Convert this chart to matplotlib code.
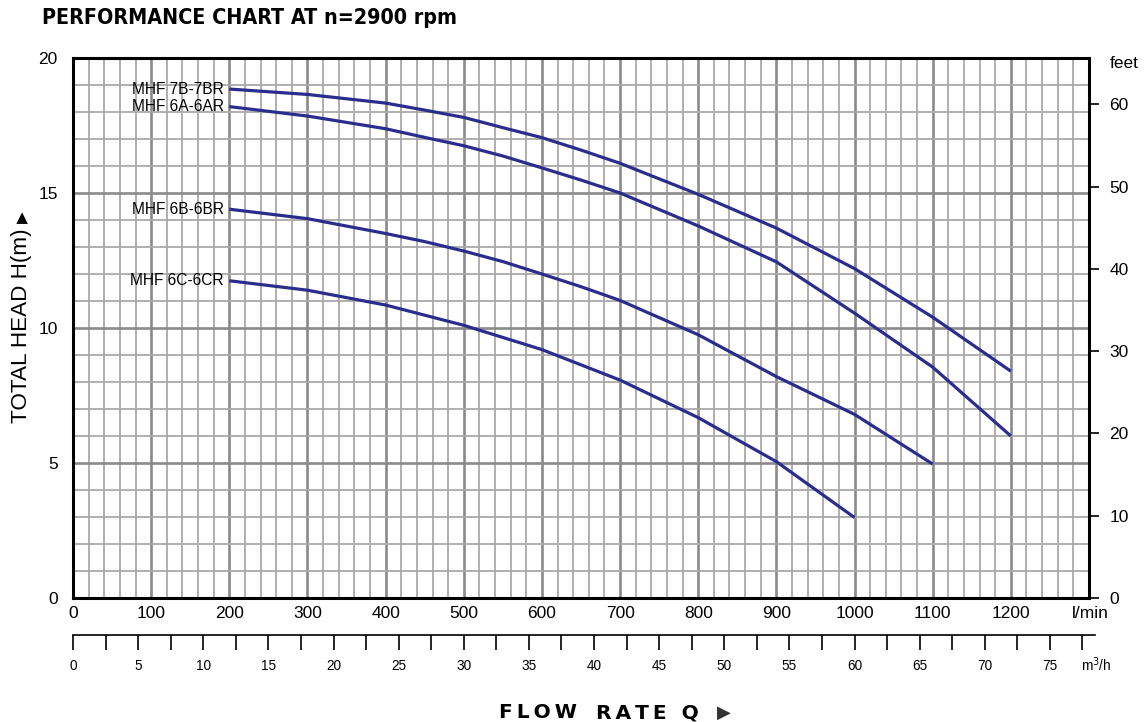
import matplotlib
matplotlib.use("Agg")
import matplotlib.pyplot as plt
from matplotlib.ticker import MultipleLocator, FixedLocator
import matplotlib.transforms as mtransforms

# ---------------- data ----------------
flow_7b = [200, 300, 400, 450, 500, 550, 600, 650, 700, 800, 900, 1000, 1100, 1200]
head_7b = [18.85, 18.65, 18.33, 18.07, 17.8, 17.42, 17.05, 16.59, 16.1, 14.95, 13.7, 12.2, 10.4, 8.4]

flow_6a = [200, 300, 400, 450, 500, 550, 600, 650, 700, 800, 900, 1000, 1100, 1200]
head_6a = [18.2, 17.85, 17.38, 17.06, 16.75, 16.37, 15.93, 15.48, 15.0, 13.78, 12.45, 10.55, 8.55, 6.0]

flow_6b = [200, 300, 400, 450, 500, 550, 600, 650, 700, 800, 900, 1000, 1100]
head_6b = [14.4, 14.05, 13.5, 13.2, 12.85, 12.46, 12.0, 11.53, 11.02, 9.75, 8.2, 6.8, 4.96]

flow_6c = [200, 300, 400, 500, 600, 700, 800, 900, 1000]
head_6c = [11.75, 11.4, 10.85, 10.1, 9.2, 8.07, 6.68, 5.05, 2.98]

model_names = ["MHF 7B-7BR", "MHF 6A-6AR", "MHF 6B-6BR", "MHF 6C-6CR"]

lmin_ticks = [0, 100, 200, 300, 400, 500, 600, 700, 800, 900, 1000, 1100, 1200]
head_ticks = [0, 5, 10, 15, 20]
feet_ticks = [0, 10, 20, 30, 40, 50, 60]
m3h_ticks = [i * 2.5 for i in range(32)]
m3h_labels = [("%d" % t) if (t % 5 == 0 and t <= 75) else "" for t in m3h_ticks]

# ---------------- style ----------------
W, H = 1147, 722
fig = plt.figure(figsize=(W / 100, H / 100), dpi=100)
FONT = ["Liberation Sans", "DejaVu Sans"]
plt.rcParams["font.family"] = FONT

curve_color = "#2b2d8c"
major_c = "#8a8a8a"
minor_c = "#a9a9a9"
TICK_FS = 12.5

x0_px, x1_px = 73, 1089
y0_px, y1_px = 598, 58
ax = fig.add_axes([x0_px / W, (H - y0_px) / H, (x1_px - x0_px) / W, (y0_px - y1_px) / H])
ax.set_xlim(0, 1300)
ax.set_ylim(0, 20)

ax.xaxis.set_major_locator(FixedLocator(lmin_ticks))
ax.xaxis.set_minor_locator(MultipleLocator(20))
ax.yaxis.set_major_locator(FixedLocator(head_ticks))
ax.yaxis.set_minor_locator(MultipleLocator(1))
ax.grid(which="minor", color=minor_c, lw=1.3, zorder=0)
ax.grid(which="major", color=major_c, lw=1.9, zorder=1)
ax.set_axisbelow(True)
ax.tick_params(which="both", length=0)
ax.tick_params(axis="x", pad=6, labelsize=TICK_FS)
ax.tick_params(axis="y", pad=11, labelsize=TICK_FS)
for s in ax.spines.values():
    s.set_linewidth(2.2)
    s.set_color("black")

for fx, hy, name in zip([flow_7b, flow_6a, flow_6b, flow_6c],
                        [head_7b, head_6a, head_6b, head_6c], model_names):
    ax.plot(fx, hy, color=curve_color, lw=2.3, solid_capstyle="butt",
            solid_joinstyle="round", zorder=3)
    ax.text(fx[0] - 7, hy[0], name, ha="right", va="center", fontsize=11.2, zorder=4)

# unit label for l/min
trans = mtransforms.blended_transform_factory(ax.transData, ax.transAxes)
ax.text(1302, -0.028, "l/min", ha="center", va="center", fontsize=TICK_FS, transform=trans)

# right feet axis
axr = ax.twinx()
axr.set_ylim(0, 20 / 0.3048)
axr.yaxis.set_major_locator(FixedLocator(feet_ticks))
axr.tick_params(axis="y", direction="out", length=7.5, width=1.2, pad=7, labelsize=TICK_FS)
for s in axr.spines.values():
    s.set_visible(False)
fig.text(1110 / W, 1 - 64 / H, "feet", ha="left", va="center", fontsize=TICK_FS)

# m3/h secondary scale
mx1_px = 1095
ym_px = 635
axm = fig.add_axes([x0_px / W, (H - ym_px) / H, (mx1_px - x0_px) / W, 0.0001])
axm.set_xlim(0, (mx1_px - x0_px) / (x1_px - x0_px) * 1300 * 60 / 1000)
axm.set_ylim(0, 1)
for k, s in axm.spines.items():
    s.set_visible(k == "bottom")
axm.spines["bottom"].set_linewidth(1.2)
axm.set_yticks([])
axm.set_xticks(m3h_ticks)
axm.set_xticklabels(m3h_labels)
axm.tick_params(axis="x", direction="out", length=11, width=1.2, pad=6.5, labelsize=9.8)
axm.patch.set_visible(False)
fig.text(1096 / W, 1 - 665 / H, "m$^3$/h", ha="center", va="center", fontsize=9.8)

# titles
title = fig.text(42 / W, 1 - 18 / H, "PERFORMANCE CHART AT n=2900 rpm",
                 ha="left", va="center", fontsize=16, fontweight="bold",
                 fontstretch="condensed",
                 family=["DejaVu Sans Condensed", "DejaVu Sans"])
fig.canvas.draw()
bw = title.get_window_extent().width
title.set_fontsize(16 * 418 / bw)

fig.text(22 / W, 1 - 326 / H, "TOTAL HEAD H(m)", rotation=90,
         ha="center", va="center", fontsize=16.2)
fig.text(23 / W, 1 - 217 / H, "\u25B6", rotation=90,
         ha="center", va="center", fontsize=11, family=["DejaVu Sans"])

ts = "\u2009"
fig.text(499 / W, 1 - 713 / H, ts.join("FLOW"), ha="left", va="center",
         fontsize=14.5, fontweight="bold", family=["DejaVu Sans"])
fig.text(596 / W, 1 - 713 / H, ts.join("RATE") + ts + " " + ts + "Q", ha="left", va="center",
         fontsize=14.5, fontweight="bold", family=["DejaVu Sans"])
fig.text(717 / W, 1 - 713 / H, "\u25B6", ha="left", va="center",
         fontsize=13, color="#333333", family=["DejaVu Sans"])

fig.savefig("out.png", dpi=100)
